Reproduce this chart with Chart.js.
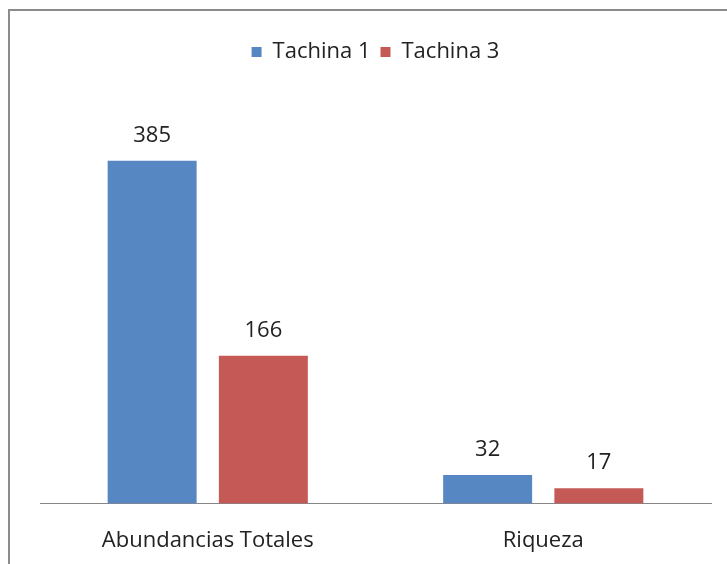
<!DOCTYPE html>
<html>
<head>
<meta charset="utf-8">
<script src="https://cdn.jsdelivr.net/npm/chart.js@4"></script>
<style>
  body { margin: 0; background: #fff; }
  #wrap { position: relative; width: 727px; height: 564px; overflow: hidden; }
  #frame { position: absolute; left: 8px; top: 9px; width: 740px; height: 600px; border: 2px solid #8c8c8c; box-sizing: border-box; }
  #canvasBox { position: absolute; left: 0; top: 0; width: 727px; height: 564px; }
</style>
</head>
<body>
<div id="wrap">
  <div id="frame"></div>
  <div id="canvasBox"><canvas id="myChart"></canvas></div>
</div>
<script>
const categories = ["Abundancias Totales", "Riqueza"]
const tachina1 = [385, 32]
const tachina3 = [166, 17]
const seriesNames = ["Tachina 1", "Tachina 3"]

const fontFamily = "'Open Sans', Lato, sans-serif"
const fontSize = 22

// values above each bar
const valueLabels = {
    id: "valueLabels",
    afterDatasetsDraw(chart) {
        const ctx = chart.ctx
        ctx.save()
        ctx.font = fontSize + "px " + fontFamily
        ctx.fillStyle = "#222"
        ctx.textAlign = "center"
        ctx.textBaseline = "alphabetic"
        chart.data.datasets.forEach((ds, i) => {
            chart.getDatasetMeta(i).data.forEach((bar, j) => {
                ctx.fillText(ds.data[j], bar.x, bar.y - 19)
            })
        })
        ctx.restore()
    }
}

// push the plot area down under the legend
const legendSpace = {
    id: "legendSpace",
    beforeInit(chart) {
        const origFit = chart.legend.fit
        chart.legend.fit = function () {
            origFit.bind(chart.legend)()
            this.height += 30
        }
    }
}

const ctx = document.getElementById("myChart").getContext("2d")
const myChart = new Chart(ctx, {
    type: "bar",
    data: {
        labels: categories,
        datasets: [{
            label: seriesNames[0],
            data: tachina1,
            backgroundColor: "#5787C3"
        }, {
            label: seriesNames[1],
            data: tachina3,
            backgroundColor: "#C55956"
        }]
    },
    options: {
        responsive: true,
        maintainAspectRatio: false,
        animation: false,
        layout: {
            padding: { top: 31, left: 40, right: 16, bottom: 0 }
        },
        plugins: {
            legend: {
                position: "top",
                labels: {
                    boxWidth: 10,
                    boxHeight: 10,
                    padding: 10,
                    color: "#222",
                    font: { family: fontFamily, size: fontSize }
                }
            },
            tooltip: { enabled: false }
        },
        datasets: {
            bar: { categoryPercentage: 0.663, barPercentage: 0.8 }
        },
        scales: {
            x: {
                grid: { display: false, drawTicks: false },
                border: { display: true, color: "#868686", width: 1 },
                ticks: {
                    color: "#222",
                    padding: 24,
                    font: { family: fontFamily, size: fontSize }
                },
                afterFit(scale) {
                    scale.height = 60.5
                }
            },
            y: {
                display: false,
                min: 0,
                max: 450
            }
        }
    },
    plugins: [valueLabels, legendSpace]
})
</script>
</body>
</html>
